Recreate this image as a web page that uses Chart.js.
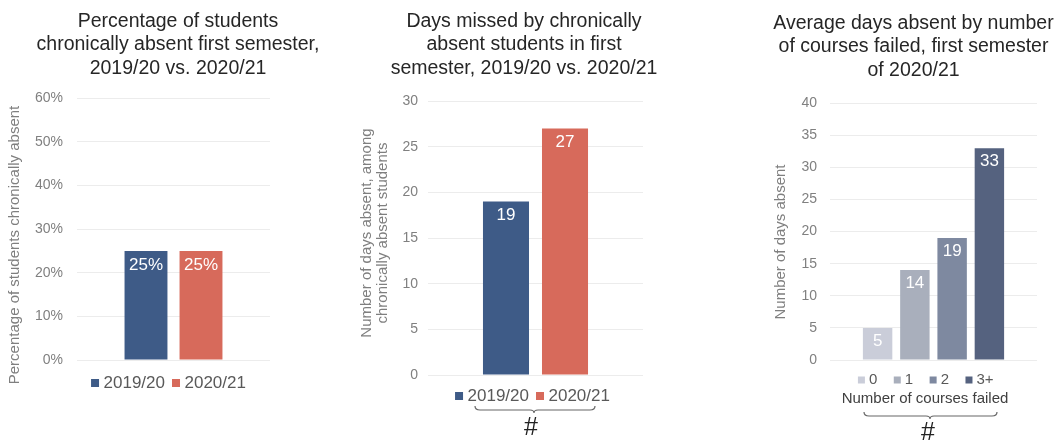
<!DOCTYPE html>
<html>
<head>
<meta charset="utf-8">
<script src="https://cdn.jsdelivr.net/npm/chart.js@4/dist/chart.umd.min.js"></script>
<style>
  html, body { margin: 0; padding: 0; background: #ffffff; }
  body { width: 1059px; height: 442px; position: relative; overflow: hidden; }
  .panel { position: absolute; top: 0; height: 442px; }
</style>
</head>
<body>
<div class="panel" style="left:0px;width:356px"><canvas id="pctChart" width="356" height="442"></canvas></div>
<div class="panel" style="left:344px;width:360px"><canvas id="daysChart" width="360" height="442"></canvas></div>
<div class="panel" style="left:768px;width:291px"><canvas id="failedChart" width="291" height="442"></canvas></div>
<script>
// ---- data ----
const seasons = ['2019/20', '2020/21'];
const seasonColors = ['#3e5b87', '#d76a5b'];
const pctChronicallyAbsent = [25, 25];
const daysMissedByChronic = [19, 27];

const coursesFailed = ['0', '1', '2', '3+'];
const coursesFailedColors = ['#cacdd9', '#a9afbc', '#7e89a0', '#55627f'];
const avgDaysAbsentByFailed = [5, 14, 19, 33];

const pctAxisMax = 60, pctAxisStep = 10;
const daysAxisMax = 30, daysAxisStep = 5;
const failedAxisMax = 40, failedAxisStep = 5;

const pctTitle = ['Percentage of students', 'chronically absent first semester,', '2019/20 vs. 2020/21'];
const daysTitle = ['Days missed by chronically', 'absent students in first', 'semester, 2019/20 vs. 2020/21'];
const failedTitle = ['Average days absent by number', 'of courses failed, first semester', 'of 2020/21'];

const pctYTitle = ['Percentage of students chronically absent'];
const daysYTitle = ['Number of days absent, among', 'chronically absent students'];
const failedYTitle = ['Number of days absent'];
const failedXTitle = 'Number of courses failed';
const groupMark = '#';

// ---- shared styling ----
Chart.defaults.font.family = "'Liberation Sans', Arial, Helvetica, sans-serif";
const TITLE_COLOR = '#262626';
const TICK_COLOR = '#808080';
const GRID_COLOR = '#ececec';

// Extra drawing: value labels inside bars, rotated axis title,
// legend nudge, caption, brace and group mark under the legend.
function decor(cfg) {
  return {
    id: 'decor',
    afterLayout(chart) {
      const L = chart.legend;
      if (L && cfg.legendShift) {
        L.left += cfg.legendShift.dx; L.right += cfg.legendShift.dx;
        L.top += cfg.legendShift.dy; L.bottom += cfg.legendShift.dy;
      }
    },
    afterDatasetsDraw(chart) {
      const ctx = chart.ctx;
      ctx.save();
      ctx.fillStyle = '#ffffff';
      ctx.font = "17px 'Liberation Sans', Arial, sans-serif";
      ctx.textAlign = 'center';
      ctx.textBaseline = 'middle';
      chart.data.datasets.forEach((ds, di) => {
        const meta = chart.getDatasetMeta(di);
        meta.data.forEach((bar, i) => {
          const v = ds.data[i];
          ctx.fillText(cfg.fmt ? cfg.fmt(v) : String(v), bar.x, bar.y + cfg.labelDy);
        });
      });
      ctx.restore();
    },
    afterDraw(chart) {
      const ctx = chart.ctx;
      ctx.save();
      // rotated y-axis title
      if (cfg.yTitle) {
        const t = cfg.yTitle;
        ctx.translate(t.x, t.y);
        ctx.rotate(-Math.PI / 2);
        ctx.fillStyle = '#7f7f7f';
        ctx.font = "15px 'Liberation Sans', Arial, sans-serif";
        ctx.textAlign = 'center';
        ctx.textBaseline = 'middle';
        const n = t.lines.length;
        t.lines.forEach((line, i) => ctx.fillText(line, 0, (i - (n - 1) / 2) * t.lh));
        ctx.setTransform(1, 0, 0, 1, 0, 0);
      }
      if (cfg.caption) {
        ctx.fillStyle = '#404040';
        ctx.font = "15px 'Liberation Sans', Arial, sans-serif";
        ctx.textAlign = 'center';
        ctx.textBaseline = 'middle';
        ctx.fillText(cfg.caption.text, cfg.caption.x, cfg.caption.y);
      }
      if (cfg.brace) {
        const b = cfg.brace;
        ctx.strokeStyle = '#666666';
        ctx.lineWidth = 1.2;
        ctx.beginPath();
        ctx.moveTo(b.x0, b.y - 4);
        ctx.quadraticCurveTo(b.x0, b.y, b.x0 + 5, b.y);
        ctx.lineTo(b.cx - 4, b.y);
        ctx.quadraticCurveTo(b.cx, b.y, b.cx, b.y + 3);
        ctx.quadraticCurveTo(b.cx, b.y, b.cx + 4, b.y);
        ctx.lineTo(b.x1 - 5, b.y);
        ctx.quadraticCurveTo(b.x1, b.y, b.x1, b.y - 4);
        ctx.stroke();
      }
      if (cfg.mark) {
        ctx.fillStyle = '#222222';
        ctx.font = "25px 'Liberation Sans', Arial, sans-serif";
        ctx.textAlign = 'center';
        ctx.textBaseline = 'middle';
        ctx.fillText(groupMark, cfg.mark.x, cfg.mark.y);
      }
      ctx.restore();
    }
  };
}

function titleOpts(lines, top, bottom) {
  return {
    display: true, text: lines, color: TITLE_COLOR,
    font: { size: 19.5, weight: 'normal', lineHeight: 1.2 },
    padding: { top: top, bottom: bottom }
  };
}

function legendOpts(size, box, pad) {
  return {
    position: 'bottom', fullSize: false,
    labels: {
      usePointStyle: true, pointStyle: 'rect', boxWidth: 0.01, boxHeight: box,
      padding: pad, color: '#595959', font: { size: size }
    }
  };
}

function yScale(max, step, width, pad, fmt) {
  return {
    min: 0, max: max,
    ticks: { stepSize: step, padding: pad, color: TICK_COLOR, font: { size: 14 }, callback: fmt || (v => v) },
    grid: { color: GRID_COLOR, drawTicks: false, lineWidth: 1 },
    border: { display: false },
    afterFit: s => { s.width = width; }
  };
}

// empty right-hand gutter so the plot is narrower than the title band
function gutter(width) {
  return {
    position: 'right', display: true,
    ticks: { display: false }, grid: { display: false }, border: { display: false },
    afterFit: s => { s.width = width; }
  };
}

// ---- chart 1: share chronically absent ----
new Chart(document.getElementById('pctChart'), {
  type: 'bar',
  data: {
    labels: [''],
    datasets: seasons.map((s, i) => ({
      label: s, data: [pctChronicallyAbsent[i]], backgroundColor: seasonColors[i],
      borderWidth: 0, categoryPercentage: 0.57, barPercentage: 0.78
    }))
  },
  options: {
    responsive: false, animation: false,
    layout: { padding: { left: 0, right: 0, top: 0, bottom: 44 } },
    plugins: {
      title: titleOpts(pctTitle, 10, 18),
      legend: legendOpts(17, 8, 11),
      tooltip: { enabled: false }
    },
    scales: {
      x: { display: false },
      y: yScale(pctAxisMax, pctAxisStep, 77, 14, v => v + '%'),
      gutter: gutter(86)
    }
  },
  plugins: [decor({
    legendShift: { dx: -3, dy: 3.5 },
    yTitle: { lines: pctYTitle, x: 15, y: 245, lh: 16 },
    fmt: v => v + '%', labelDy: 14.5
  })]
});

// ---- chart 2: days missed by chronically absent students ----
new Chart(document.getElementById('daysChart'), {
  type: 'bar',
  data: {
    labels: [''],
    datasets: seasons.map((s, i) => ({
      label: s, data: [daysMissedByChronic[i]], backgroundColor: seasonColors[i],
      borderWidth: 0, categoryPercentage: 0.549, barPercentage: 0.78
    }))
  },
  options: {
    responsive: false, animation: false,
    layout: { padding: { left: 0, right: 0, top: 0, bottom: 29 } },
    plugins: {
      title: titleOpts(daysTitle, 10, 21),
      legend: legendOpts(17, 8, 11),
      tooltip: { enabled: false }
    },
    scales: {
      x: { display: false },
      y: yScale(daysAxisMax, daysAxisStep, 84, 10),
      gutter: gutter(61)
    }
  },
  plugins: [decor({
    legendShift: { dx: -1, dy: 1.5 },
    yTitle: { lines: daysYTitle, x: 31, y: 233, lh: 16 },
    labelDy: 13.5,
    brace: { x0: 131, x1: 251, cx: 190, y: 410 },
    mark: { x: 187, y: 428 }
  })]
});

// ---- chart 3: average days absent by courses failed ----
new Chart(document.getElementById('failedChart'), {
  type: 'bar',
  data: {
    labels: [''],
    datasets: coursesFailed.map((c, i) => ({
      label: c, data: [avgDaysAbsentByFailed[i]], backgroundColor: coursesFailedColors[i],
      borderWidth: 0, categoryPercentage: 0.72, barPercentage: 0.79
    }))
  },
  options: {
    responsive: false, animation: false,
    layout: { padding: { left: 0, right: 0, top: 0, bottom: 37 } },
    plugins: {
      title: titleOpts(failedTitle, 12, 21),
      legend: legendOpts(15, 7, 20),
      tooltip: { enabled: false }
    },
    scales: {
      x: { display: false },
      y: yScale(failedAxisMax, failedAxisStep, 62, 13),
      gutter: gutter(22)
    }
  },
  plugins: [decor({
    legendShift: { dx: -6, dy: -7.5 },
    yTitle: { lines: failedYTitle, x: 13, y: 242, lh: 16 },
    labelDy: 13,
    caption: { text: failedXTitle, x: 157, y: 399 },
    brace: { x0: 96, x1: 229, cx: 162, y: 416 },
    mark: { x: 160, y: 433 }
  })]
});
</script>
</body>
</html>
